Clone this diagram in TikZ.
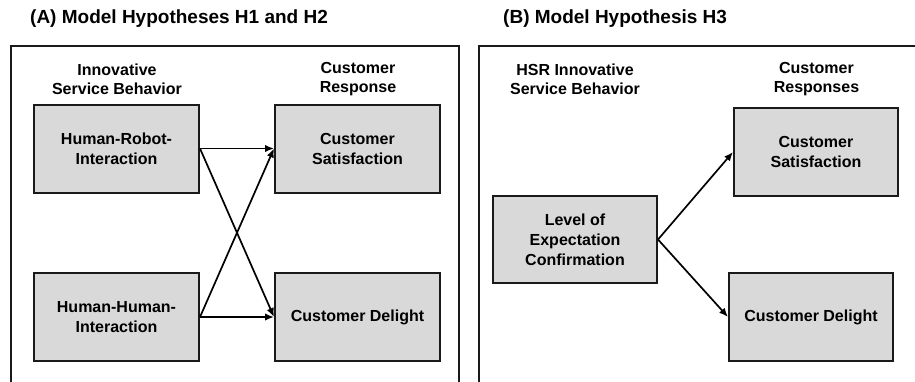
\documentclass[tikz,border=0pt]{standalone}
\usepackage{fontspec}
\setmainfont{Liberation Sans}
\usetikzlibrary{arrows.meta}
\definecolor{boxfill}{HTML}{D9D9D9}
\definecolor{inkline}{HTML}{1A1A1A}
\begin{document}
\begin{tikzpicture}[x=1pt,y=-1pt,
  panel/.style={draw=inkline,line width=2pt},
  factor/.style={draw=inkline,line width=2pt,fill=boxfill,inner sep=0pt,
    minimum width=165pt,minimum height=88pt,align=center,
    font=\fontsize{16}{20}\selectfont\bfseries},
  header/.style={inner sep=0pt,align=center,
    font=\fontsize{16}{19}\selectfont\bfseries},
  heading/.style={inner sep=0pt,anchor=west,
    font=\fontsize{19}{22}\selectfont\bfseries},
  link/.style={line width=1.7pt,-{Latex[length=9pt,width=7.5pt]}}]
\useasboundingbox (0,0) rectangle (915,381);

% panel titles
\node[heading] (tA) at (30,19) {(A) Model Hypotheses H1 and H2};
\node[heading] (tB) at (503,19) {(B) Model Hypothesis H3};

% panel frames (open at the bottom)
\draw[panel] (11,382) -- (11,46) -- (459,46) -- (459,382);
\draw[panel] (479,382) -- (479,46) -- (916,46);

% panel A
\node[header] (hA1) at (117,79.5) {Innovative\\Service Behavior};
\node[header] (hA2) at (358,79.5) {Customer\\Response};
\node[factor] (hri) at (116.5,148.5) {Human-Robot-\\Interaction};
\node[factor] (csA) at (357.5,148.5) {Customer\\Satisfaction};
\node[factor] (hhi) at (116.5,317) {Human-Human-\\Interaction};
\node[factor] (cdA) at (357.5,317) {Customer Delight};

\draw[link] (hri.east) -- (csA.west);
\draw[link] (hri.east) -- (cdA.west);
\draw[link] (hhi.east) -- (csA.west);
\draw[link] (hhi.east) -- (cdA.west);

% panel B
\node[header] (hB1) at (575,79.5) {HSR Innovative\\Service Behavior};
\node[header] (hB2) at (816.5,79.5) {Customer\\Responses};
\node[factor,minimum width=164pt,minimum height=87pt] (lec) at (575,239.5) {Level of\\Expectation\\Confirmation};
\node[factor,minimum width=164pt] (csB) at (816,152) {Customer\\Satisfaction};
\node[factor,minimum width=164pt] (cdB) at (811,317) {Customer Delight};

\draw[link] (lec.east) -- (csB.west);
\draw[link] (lec.east) -- (cdB.west);
\end{tikzpicture}
\end{document}
